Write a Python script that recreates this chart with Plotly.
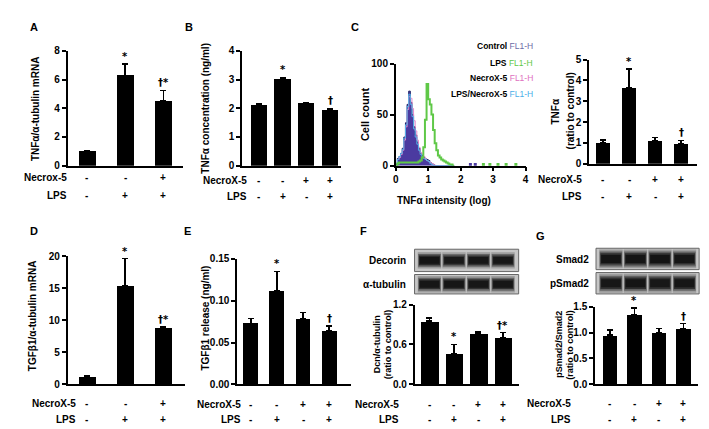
import plotly.graph_objects as go

W, H = 709, 429
def px(x): return x / W
def py(y): return 1 - y / H
def dx(a, b): return [px(a), px(b)]
def dy(top, bottom): return [py(bottom), py(top)]

FONT = "Liberation Sans, Arial, sans-serif"

# ---------------- data ----------------
three_necrox = ["-", "-", "+"]
three_lps = ["-", "+", "+"]
four_necrox = ["-", "-", "+", "+"]
four_lps = ["-", "+", "-", "+"]

A_vals = [1.0, 6.3, 4.5]
A_err = [0.05, 0.8, 0.75]
A_marks = ["", "*", "†*"]

B_vals = [2.13, 3.03, 2.17, 1.95]
B_err = [0.03, 0.05, 0.03, 0.05]
B_marks = ["", "*", "", "†"]

C_vals = [1.0, 3.65, 1.12, 0.95]
C_err = [0.15, 0.9, 0.13, 0.17]
C_marks = ["", "*", "", "†"]

D_vals = [1.2, 15.4, 8.8]
D_err = [0.2, 4.2, 0.2]
D_marks = ["", "*", "†*"]

E_vals = [0.073, 0.112, 0.078, 0.064]
E_err = [0.006, 0.023, 0.008, 0.006]
E_marks = ["", "*", "", "†"]

F_vals = [0.95, 0.46, 0.77, 0.70]
F_err = [0.05, 0.14, 0.02, 0.08]
F_marks = ["", "*", "", "†*"]

G_vals = [0.95, 1.35, 1.0, 1.08]
G_err = [0.10, 0.12, 0.08, 0.09]
G_marks = ["", "*", "", "†"]

# flow cytometry histogram (TNFα intensity, log)
hist_x = [0.00, 0.05, 0.10, 0.15, 0.20, 0.25, 0.30, 0.35, 0.40, 0.45,
          0.50, 0.55, 0.60, 0.65, 0.70, 0.75, 0.80, 0.85, 0.90, 0.95,
          1.00, 1.05, 1.10, 1.15, 1.20, 1.25, 1.30, 1.35, 1.40, 1.45,
          1.50, 1.55, 1.60, 1.65, 1.70, 1.75, 1.80]
hist_control = [2, 7, 9, 12, 17, 28, 42, 60, 73, 62,
                50, 38, 30, 23, 17, 12, 10, 8, 7, 6,
                5, 3, 2, 1, 0, 0, 0, 0, 0, 0,
                0, 0, 0, 0, 0, 0, 0]
hist_necrox = [2, 6, 8, 11, 15, 25, 38, 55, 68, 66,
               56, 44, 34, 25, 18, 13, 11, 9, 7, 5,
               4, 3, 2, 1, 0, 0, 0, 0, 0, 0,
               0, 0, 0, 0, 0, 0, 0]
hist_lps_necrox = [2, 6, 9, 12, 16, 27, 40, 58, 70, 60,
                   48, 36, 28, 21, 15, 11, 9, 7, 6, 5,
                   4, 2, 1, 0, 0, 0, 0, 0, 0, 0,
                   0, 0, 0, 0, 0, 0, 0]
hist_lps = [0, 2, 3, 3, 3, 3, 3, 3, 3, 3,
            3, 3, 3, 3, 4, 5, 8, 18, 45, 80,
            65, 60, 50, 35, 22, 15, 10, 8, 6, 5,
            4, 3, 2, 1, 1, 0, 0]
sparse_x = [2.3, 2.45, 2.7, 2.9, 3.15, 3.4, 3.7]
sparse_y = [1, 1, 1, 1, 1, 1, 1]

# western blot band intensities (relative darkness)
blot_decorin = [1.0, 0.82, 0.9, 0.88]
blot_tubulin = [0.92, 0.92, 0.9, 0.92]
blot_smad2 = [0.95, 0.95, 0.97, 0.93]
blot_psmad2 = [0.9, 0.95, 0.9, 0.93]

fig = go.Figure()
annotations = []
shapes = []
layout = {}

def txt(x, y, s, size=10, bold=True, xanchor="center", yanchor="middle",
        xref="paper", yref="paper", angle=0, color="black", family=FONT):
    annotations.append(dict(x=x, y=y, text=(f"<b>{s}</b>" if bold else s),
                            xref=xref, yref=yref, showarrow=False,
                            xanchor=xanchor, yanchor=yanchor, textangle=angle,
                            font=dict(family=family, size=size, color=color)))

def bar_panel(n, vals, errs, marks, necrox, lps, xdom, ydom, xr, yr,
              tickvals, ticktext, width, titles, title_y, necrox_lbl, lps_lbl,
              row_y, lbl_right, title_size=10):
    xa = "x" if n == 1 else f"x{n}"
    ya = "y" if n == 1 else f"y{n}"
    cats = list(range(len(vals)))
    fig.add_trace(go.Bar(x=cats, y=vals, width=width, xaxis=xa, yaxis=ya,
                         marker=dict(color="black", line=dict(width=0)),
                         error_y=dict(type="data", symmetric=False, array=errs,
                                      arrayminus=[0] * len(errs),
                                      color="black", thickness=1.5, width=3),
                         showlegend=False, hoverinfo="skip"))
    layout["xaxis" if n == 1 else f"xaxis{n}"] = dict(
        domain=dx(*xdom), range=xr, anchor=ya, showline=True, linecolor="black",
        linewidth=1.5, showticklabels=False, ticks="", showgrid=False, zeroline=False,
        fixedrange=True)
    layout["yaxis" if n == 1 else f"yaxis{n}"] = dict(
        domain=dy(*ydom), range=yr, anchor=xa, showline=True, linecolor="black",
        linewidth=1.5, ticks="outside", ticklen=4, tickwidth=1.5, tickcolor="black",
        tickvals=tickvals, ticktext=ticktext, showgrid=False, zeroline=False,
        tickfont=dict(family=FONT, size=10, color="black", weight="bold"),
        fixedrange=True)
    for i, m in enumerate(marks):
        if m:
            txt(i, vals[i] + errs[i], m, size=10, yanchor="bottom", xref=xa, yref=ya,
                family="DejaVu Sans, " + FONT)
    for i, s in enumerate(necrox):
        txt(i, py(row_y[0]), s, size=10, xref=xa)
    for i, s in enumerate(lps):
        txt(i, py(row_y[1]), s, size=10, xref=xa)
    txt(px(lbl_right), py(row_y[0]), necrox_lbl, size=10, xanchor="right")
    txt(px(lbl_right), py(row_y[1]), lps_lbl, size=10, xanchor="right")
    for (tx, t) in titles:
        txt(px(tx), py(title_y), t, size=title_size, angle=-90)

# A
bar_panel(1, A_vals, A_err, A_marks, three_necrox, three_lps, (57, 173), (38, 156),
          [-0.5, 2.5], [0, 8], [0, 2, 4, 6, 8], ["0", "2", "4", "6", "8"], 0.44,
          [(24, "TNFα/α-tubulin mRNA")], 97, "Necrox-5", "LPS", (168, 187), 58)
# B
bar_panel(2, B_vals, B_err, B_marks, four_necrox, four_lps, (233, 333), (38, 156),
          [-0.7, 3.46], [0, 4], [0, 1, 2, 3, 4], ["0", "1", "2", "3", "4"], 0.68,
          [(196, "TNFα concentration (ng/ml)")], 97, "NecroX-5", "LPS", (171, 188), 240)
# C bar
bar_panel(4, C_vals, C_err, C_marks, four_necrox, four_lps, (583, 692), (47, 154),
          [-0.53, 3.61], [0, 5], [0, 1, 2, 3, 4, 5], ["0", "1", "2", "3", "4", "5"], 0.56,
          [(549, "TNFα"), (564, "(ratio to control)")], 100, "NecroX-5", "LPS",
          (170, 188), 578)
# D
bar_panel(5, D_vals, D_err, D_marks, three_necrox, three_lps, (57, 175), (249, 381),
          [-0.5, 2.55], [0, 20], [0, 5, 10, 15, 20], ["0", "5", "10", "15", "20"], 0.44,
          [(22, "TGFβ1/α-tubulin mRNA")], 310, "NecroX-5", "LPS", (401, 417), 68)
# E
bar_panel(6, E_vals, E_err, E_marks, four_necrox, four_lps, (228, 343), (252, 381),
          [-0.53, 3.84], [0, 0.15], [0, 0.05, 0.10, 0.15],
          ["0.00", "0.05", "0.10", "0.15"], 0.57,
          [(196, "TGFβ1 release (ng/ml)")], 313, "NecroX-5", "LPS", (402, 417), 234)
# F
bar_panel(7, F_vals, F_err, F_marks, four_necrox, four_lps, (407, 512), (299, 381),
          [-0.61, 3.64], [0, 1.2], [0, 0.6, 1.2], ["0.0", "0.6", "1.2"], 0.72,
          [(370, "Dcn/α-tubulin"), (381, "(ratio to control)")], 340, "NecroX-5", "LPS",
          (402, 417), 393, title_size=9)
# G
bar_panel(9, G_vals, G_err, G_marks, four_necrox, four_lps, (589, 693), (301, 381),
          [-0.61, 3.60], [0, 1.5], [0, 0.5, 1.0, 1.5], ["0.0", "0.5", "1.0", "1.5"], 0.6,
          [(553, "pSmad2/Smad2"), (564, "(ratio to control)")], 340, "NecroX-5", "LPS",
          (401, 417), 567, title_size=9)

# C histogram
hist_series = [
    (hist_control, "#1f1f66", "tozeroy", "#4b3aa0", 1.0),
    (hist_necrox, "#e38acb", None, None, 1.0),
    (hist_lps_necrox, "#55b0e8", None, None, 1.0),
    (hist_lps, "#5fc847", None, None, 2.0),
]
for ys, lc, fill, fc, lw in hist_series:
    fig.add_trace(go.Scatter(x=hist_x, y=ys, xaxis="x3", yaxis="y3", mode="lines",
                             line=dict(color=lc, width=lw, shape="hv"),
                             fill=fill, fillcolor=fc, showlegend=False,
                             hoverinfo="skip"))
fig.add_trace(go.Scatter(x=sparse_x, y=sparse_y, xaxis="x3", yaxis="y3", mode="markers",
                         marker=dict(color=["#4b3aa0", "#4b3aa0", "#5fc847", "#5fc847",
                                            "#5fc847", "#5fc847", "#5fc847"], size=3,
                                     symbol="square"),
                         showlegend=False, hoverinfo="skip"))
layout["xaxis3"] = dict(domain=dx(388, 519), range=[0, 4], anchor="y3", showline=True,
                        linecolor="black", linewidth=1.5, ticks="outside", ticklen=4,
                        tickwidth=1.5, tickcolor="black", tickvals=[0, 1, 2, 3, 4],
                        showgrid=False, zeroline=False, fixedrange=True,
                        tickfont=dict(family=FONT, size=10, color="black", weight="bold"))
layout["yaxis3"] = dict(domain=dy(51, 156), range=[0, 100], anchor="x3", showline=True,
                        linecolor="black", linewidth=1.5, ticks="outside", ticklen=4,
                        tickwidth=1.5, tickcolor="black", tickvals=[0, 50, 100],
                        showgrid=False, zeroline=False, fixedrange=True,
                        tickfont=dict(family=FONT, size=10, color="black", weight="bold"))
txt(px(357), py(103), "Cell count", size=11, angle=-90)
txt(px(437), py(192), "TNFα intensity (log)", size=10)
legend_items = [("Control", "#6b6ba6", 33), ("LPS", "#5fc847", 50),
                ("NecroX-5", "#e070c0", 66), ("LPS/NecroX-5", "#4aaee8", 82)]
for name, col, yy in legend_items:
    annotations.append(dict(x=px(528), y=py(yy), xref="paper", yref="paper",
                            showarrow=False, xanchor="right", yanchor="middle",
                            text=f"<b>{name}</b> <span style='color:{col}'>FL1-H</span>",
                            font=dict(family=FONT, size=8.5, color="black")))

# Western blots
def blot_strip(n, xdom, ydom, xr, intens, thick):
    xa, ya = f"x{n}", f"y{n}"
    fig.add_trace(go.Scatter(x=list(range(len(intens))), y=[0.5] * len(intens),
                             xaxis=xa, yaxis=ya, mode="markers",
                             marker=dict(size=1, color="rgba(0,0,0,0)"),
                             showlegend=False, hoverinfo="skip"))
    layout[f"xaxis{n}"] = dict(domain=dx(*xdom), range=xr, anchor=ya, visible=False,
                               fixedrange=True)
    layout[f"yaxis{n}"] = dict(domain=dy(*ydom), range=[0, 1], anchor=xa, visible=False,
                               fixedrange=True)
    shapes.append(dict(type="rect", xref=f"{xa} domain", yref=f"{ya} domain",
                       x0=0, x1=1, y0=0, y1=1, fillcolor="#c6c6c6",
                       line=dict(color="#666666", width=1), layer="below"))
    for i, v in enumerate(intens):
        for half_w, k, a in [(0.48, 1.0, 0.25), (0.46, 0.8, 0.45), (0.43, 0.6, 0.7),
                             (0.40, 0.42, 1.0)]:
            shapes.append(dict(type="rect", xref=xa, yref=ya, x0=i - half_w,
                               x1=i + half_w, y0=0.5 - thick * k, y1=0.5 + thick * k,
                               fillcolor=f"rgba(20,20,20,{a * v:.2f})",
                               line=dict(width=0), layer="above"))

blot_strip(8, (407, 512), (242, 265), [-0.61, 3.64], blot_decorin, 0.36)
blot_strip(10, (407, 512), (268, 288), [-0.61, 3.64], blot_tubulin, 0.42)
blot_strip(11, (590, 694), (241, 263), [-0.61, 3.60], blot_smad2, 0.44)
blot_strip(12, (590, 694), (266, 288), [-0.61, 3.60], blot_psmad2, 0.44)
txt(px(400), py(254), "Decorin", size=10, xanchor="right")
txt(px(400), py(278), "α-tubulin", size=10, xanchor="right")
txt(px(585), py(253), "Smad2", size=10, xanchor="right")
txt(px(585), py(277), "pSmad2", size=10, xanchor="right")

# panel letters
for letter, x, y in [("A", 23, 13), ("B", 180, 13), ("C", 347, 13), ("D", 23, 223),
                     ("E", 178, 223), ("F", 356, 223), ("G", 534, 228)]:
    txt(px(x), py(y), letter, size=11)

fig.update_layout(width=W, height=H, margin=dict(l=0, r=0, t=0, b=0),
                  paper_bgcolor="white", plot_bgcolor="white",
                  annotations=annotations, shapes=shapes, bargap=0,
                  font=dict(family=FONT), **layout)
fig.write_html("out.html")
